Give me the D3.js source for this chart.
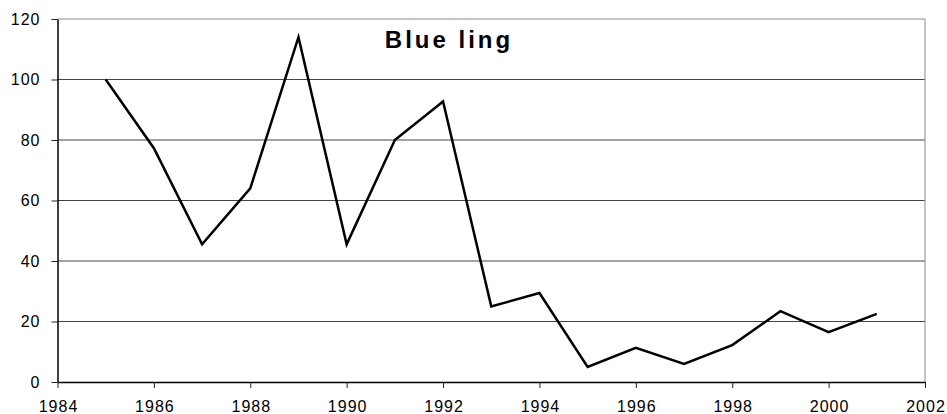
<!DOCTYPE html>
<html>
<head>
<meta charset="utf-8">
<script src="https://cdn.jsdelivr.net/npm/d3@7"></script>
<style>
  body { margin: 0; background: #fff; }
  text { font-family: "Liberation Sans", Arial, sans-serif; }
</style>
</head>
<body>
<script>
// data
var years = [1985, 1986, 1987, 1988, 1989, 1990, 1991, 1992, 1993, 1994, 1995, 1996, 1997, 1998, 1999, 2000, 2001];
var values = [100, 77.3, 45.5, 64, 114, 45.5, 80, 92.7, 25, 29.4, 5, 11.3, 6, 12.2, 23.4, 16.5, 22.5];
var xTicks = [1984, 1986, 1988, 1990, 1992, 1994, 1996, 1998, 2000, 2002];
var yTicks = [0, 20, 40, 60, 80, 100, 120];
var title = "Blue ling";

var svgWidth = 947;
var svgHeight = 414;
var margin = { top: 19, right: 22, bottom: 32, left: 57.5 };
var width = svgWidth - margin.left - margin.right;
var height = svgHeight - margin.top - margin.bottom;

var svg = d3.select("body").append("svg")
    .attr("width", svgWidth)
    .attr("height", svgHeight);

var chartGroup = svg.append("g")
    .attr("transform", `translate(${margin.left}, ${margin.top})`);

var x = d3.scaleLinear().domain([1984, 2002]).range([0, width]);
var y = d3.scaleLinear().domain([0, 120]).range([height, 0]);

// gridlines
chartGroup.selectAll(".grid")
    .data(yTicks.filter(d => d > 0))
    .enter().append("line")
    .attr("x1", 0).attr("x2", width)
    .attr("y1", d => y(d)).attr("y2", d => y(d))
    .attr("stroke", d => d === 120 ? "#888" : "#444")
    .attr("stroke-width", 1);

// right border
chartGroup.append("line")
    .attr("x1", width).attr("x2", width)
    .attr("y1", 0).attr("y2", height)
    .attr("stroke", "#888");

// axes
var bottomAxis = d3.axisBottom(x).tickValues(xTicks).tickFormat(d3.format("d")).tickSizeInner(6).tickSizeOuter(0).tickPadding(13);
var leftAxis = d3.axisLeft(y).tickValues(yTicks).tickSizeInner(6).tickSizeOuter(0).tickPadding(11);

var gx = chartGroup.append("g")
    .attr("transform", `translate(0, ${height})`)
    .call(bottomAxis);
var gy = chartGroup.append("g").call(leftAxis);

[gx, gy].forEach(function (g) {
  g.selectAll("path").attr("stroke", "#000").attr("stroke-width", 1.5);
  g.selectAll("line").attr("stroke", "#222");
  g.selectAll("text")
    .attr("fill", "#000")
    .style("font-size", "16px")
    .style("letter-spacing", "1px")
    .style("font-family", "'Liberation Sans', Arial, sans-serif");
});
gx.selectAll("text").attr("dx", "0.5px");

// line
var line = d3.line()
    .x((d, i) => x(years[i]))
    .y(d => y(d));

chartGroup.append("path")
    .datum(values)
    .attr("fill", "none")
    .attr("stroke", "#000")
    .attr("stroke-width", 2.5)
    .attr("stroke-linejoin", "miter")
    .attr("d", line);

// title
svg.append("text")
    .attr("x", 449)
    .attr("y", 48)
    .attr("text-anchor", "middle")
    .style("font-size", "24px")
    .style("font-weight", "bold")
    .style("letter-spacing", "3px")
    .text(title);
</script>
</body>
</html>
